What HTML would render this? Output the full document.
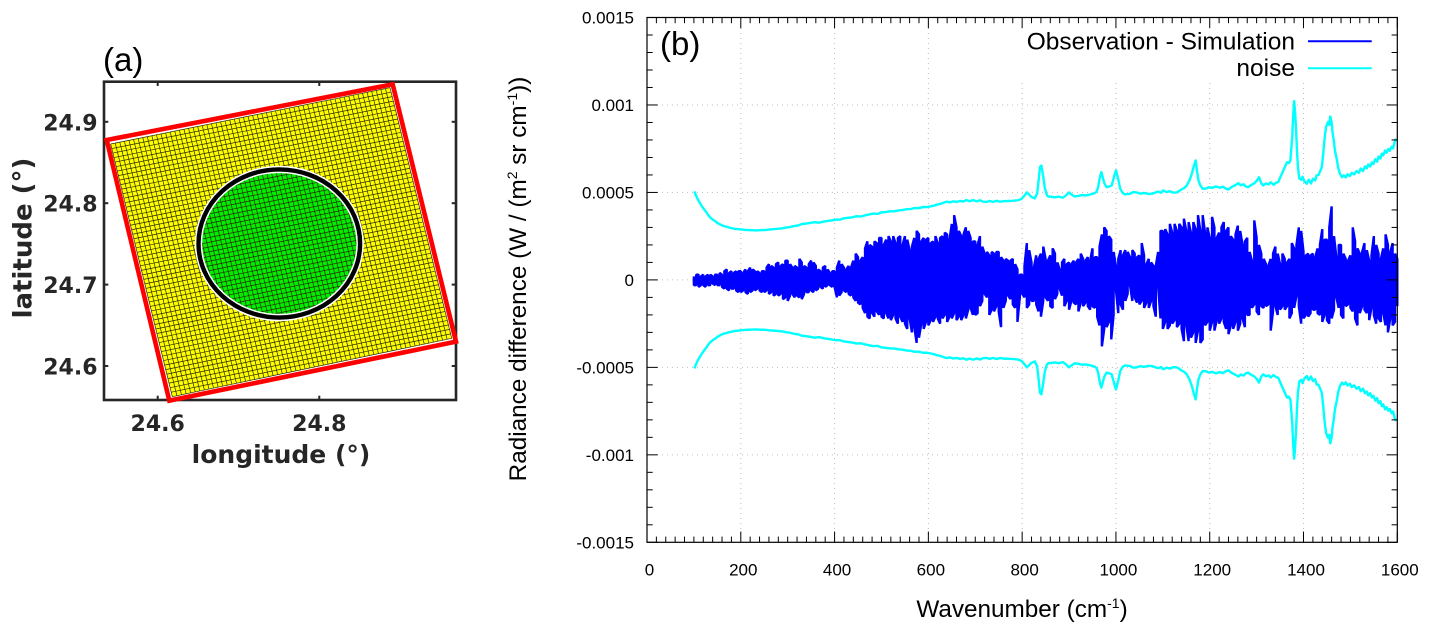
<!DOCTYPE html>
<html lang="en">
<head>
<meta charset="utf-8">
<title>Simulation footprint and radiance difference</title>
<style>
html,body{margin:0;padding:0;background:#fff;}
svg{display:block;}
.dj{font-family:"DejaVu Sans",sans-serif;font-weight:bold;fill:#262626;font-size:22px;}
.lib{font-family:"Liberation Sans",sans-serif;fill:#000;}
</style>
</head>
<body>
<svg id="figure" xmlns="http://www.w3.org/2000/svg" width="1431" height="635" viewBox="0 0 1431 635">
  <rect x="0" y="0" width="1431" height="635" fill="#fff"/>

  <g id="panel-a">
    <text class="lib" x="103" y="71" font-size="33">(a)</text>
    <rect x="104" y="81.7" width="352" height="318.3" fill="none" stroke="#262626" stroke-width="2.6"/>
    <g id="a-ticks"></g>
    <g id="a-cells"></g>
    <g id="a-overlay"></g>
    <text class="dj" x="281" y="463" text-anchor="middle" style="font-size:25px">longitude (°)</text>
    <text class="dj" x="31.5" y="238" text-anchor="middle" transform="rotate(-90 31.5 238)" style="font-size:26px">latitude (°)</text>
  </g>

  <g id="panel-b">
    <g id="b-grid"></g>
    <rect x="1020" y="18.5" width="376" height="64.5" fill="#fff"/>
    <g id="b-series"></g>
    <g id="b-ticks"></g>
    <rect x="647" y="17.5" width="750.3" height="524.8" fill="none" stroke="#000" stroke-width="1.2"/>
    <text class="lib" x="660" y="55" font-size="33">(b)</text>
    <g>
      <g>
        <text class="lib" x="1295" y="49.3" font-size="24.5" text-anchor="end">Observation - Simulation</text>
        <line x1="1308" x2="1371.7" y1="41.3" y2="41.3" stroke="#0000ff" stroke-width="2"/>
      </g>
      <g>
        <text class="lib" x="1295" y="76" font-size="24.5" text-anchor="end">noise</text>
        <line x1="1308" x2="1371.7" y1="68.3" y2="68.3" stroke="#00ffff" stroke-width="2"/>
      </g>
    </g>
    <text class="lib" x="1022" y="617" font-size="24.3" text-anchor="middle">Wavenumber (cm<tspan font-size="14" dy="-9">-1</tspan><tspan dy="9">)</tspan></text>
    <text class="lib" x="526" y="279" font-size="24.3" text-anchor="middle" transform="rotate(-90 526 279)">Radiance difference (W / (m<tspan font-size="14" dy="-9">2</tspan><tspan dy="9"> sr cm</tspan><tspan font-size="14" dy="-9">-1</tspan><tspan dy="9">))</tspan></text>
  </g>
</svg>

<script>
/* ---------- Panel (a) data ---------- */
const lonTicks = [24.6, 24.8];
const latTicks = [24.6, 24.7, 24.8, 24.9];
const footprintLon = [24.5369, 24.8908, 24.9692, 24.6144];
const footprintLat = [24.8776, 24.9461, 24.6299, 24.5574];
const gridLon = [24.5418, 24.8875, 24.9639, 24.6181];
const gridLat = [24.8727, 24.9419, 24.6340, 24.5623];
const gridCellsAlong = 61;
const gridCellsAcross = 56;
const circleCenterLon = 24.7505;
const circleCenterLat = 24.7505;
const circleRadiusLon = 0.1;
const circleRadiusLat = 0.091;

/* ---------- Panel (b) data ---------- */
const xTicks = [0, 200, 400, 600, 800, 1000, 1200, 1400, 1600];
const yTicks = [0.0015, 0.001, 0.0005, 0, -0.0005, -0.001, -0.0015];
const yTickLabels = ['0.0015', '0.001', '0.0005', '0', '-0.0005', '-0.001', '-0.0015'];

/* noise curve: wavenumber (cm-1) and value (1e-3 W/(m2 sr cm-1)); drawn mirrored */
const noiseWavenumber = [
101,104,108,112,116,120,125,130,134,140,145,150,156,162,170,177,185,198,
208,216,225,234,243,252,260,269,278,287,296,305,314,322,331,340,349,358,367,376,385,393,
402,411,420,429,438,447,456,465,474,483,492,500,509,518,527,536,545,554,562,571,580,589,596,
604,611,618,625,632,639,646,653,660,667,674,681,688,696,703,710,717,724,731,738,745,753,760,770,779,788,794,799,805,810,814,820,827,832,835,838,
841,845,848,852,855,862,870,878,887,893,900,906,912,920,928,935,945,955,959,962,966,969,972,975,980,986,991,996,1000,1005,1009,1014,1019,
1030,1037,1044,1052,1060,1070,1079,1090,1096,1101,1108,1115,1122,1130,1136,1140,1146,1151,1157,1162,1166,1170,1173,1176,1180,1185,
1192,1198,1205,1213,1222,1228,1234,1240,1245,1250,1256,1261,1266,1272,1277,1282,1288,1295,1300,1305,1310,1314,1320,1326,1330,1336,1342,1346,1351,1357,1361,1365,1369,1372,1376,1378,1380,1382,1384,1386,1388,1391,
1395,1398,1402,1407,1411,1416,1420,1425,1428,1432,1436,1439,1442,1445,1448,1451,1453,1455,1457,1460,1462,1465,1467,1471,1474,1478,1482,
1486,1490,1494,1499,1503,1508,1513,1518,1522,1527,1531,1535,1538,1542,1546,1549,1553,1557,1560,1564,1567,1570,1574,1577,1581,1584,1588,1591,1594,1597];
const noiseValue = [
0.506,0.486,0.462,0.443,0.426,0.410,0.392,0.373,0.359,0.345,0.336,0.326,0.317,0.309,0.303,0.298,0.293,0.289,
0.286,0.285,0.284,0.283,0.285,0.285,0.288,0.290,0.292,0.294,0.299,0.302,0.308,0.311,0.320,0.322,0.326,0.330,0.327,0.333,0.337,0.340,
0.345,0.344,0.352,0.355,0.358,0.364,0.362,0.369,0.374,0.379,0.377,0.386,0.388,0.392,0.392,0.397,0.399,0.404,0.405,0.411,0.410,0.417,0.416,
0.420,0.424,0.430,0.434,0.441,0.447,0.443,0.449,0.446,0.451,0.448,0.456,0.450,0.456,0.449,0.455,0.447,0.446,0.451,0.446,0.452,0.447,0.450,0.451,0.452,0.454,0.458,0.464,0.482,0.500,0.490,0.474,0.466,0.494,0.565,0.645,
0.654,0.590,0.530,0.490,0.477,0.475,0.472,0.476,0.470,0.482,0.500,0.487,0.477,0.480,0.485,0.483,0.488,0.496,0.505,0.530,0.590,0.616,0.585,0.555,0.530,0.534,0.540,0.590,0.626,0.575,0.522,0.498,0.489,
0.492,0.502,0.500,0.493,0.497,0.491,0.494,0.505,0.498,0.511,0.502,0.507,0.499,0.500,0.510,0.518,0.526,0.540,0.570,0.608,0.650,0.683,0.620,0.569,0.540,0.521,
0.522,0.530,0.526,0.534,0.527,0.533,0.522,0.517,0.528,0.536,0.544,0.553,0.541,0.547,0.534,0.530,0.542,0.552,0.566,0.587,0.552,0.540,0.551,0.546,0.558,0.544,0.556,0.559,0.590,0.626,0.650,0.673,0.668,0.683,0.820,0.940,1.022,0.960,0.870,0.740,0.650,0.580,
0.572,0.590,0.562,0.550,0.572,0.552,0.578,0.569,0.598,0.600,0.625,0.645,0.720,0.810,0.873,0.895,0.905,0.885,0.934,0.900,0.840,0.790,0.740,0.690,0.640,0.605,0.587,
0.598,0.586,0.604,0.594,0.612,0.603,0.622,0.612,0.636,0.622,0.648,0.638,0.660,0.648,0.672,0.662,0.690,0.676,0.705,0.694,0.722,0.712,0.740,0.727,0.748,0.738,0.762,0.752,0.785,0.808];

/* observation minus simulation: per 5 cm-1 bin maxima/minima (1e-5), from 100 to 1600 */
const obsStart = 100;
const obsStep = 5;
const obsHigh = [
2,3,3,2,3,2,3,3,2,3,3,4,3,5,6,4,5,4,5,5,
5,4,6,5,7,6,5,5,4,5,5,7,9,8,7,9,10,8,9,11,
11,9,7,8,7,12,10,8,7,9,11,10,8,6,5,7,8,6,4,5,
5,7,11,9,7,6,8,7,11,15,13,11,13,18,22,20,19,22,21,24,
24,20,23,25,22,25,21,24,25,20,25,23,17,19,24,28,26,22,24,23,
24,21,22,25,21,24,25,27,26,23,32,37,30,28,25,26,30,28,24,22,
22,20,25,19,15,16,14,16,15,16,16,13,11,12,11,11,12,9,6,3,
3,8,21,17,10,7,14,12,15,19,12,11,14,18,15,10,6,10,12,9,
10,9,11,10,12,15,12,11,13,11,18,13,13,19,26,30,28,25,23,16,
8,12,17,14,17,16,13,17,15,13,14,21,14,9,12,10,8,8,16,28,
28,29,26,32,27,32,28,32,30,35,28,33,27,33,29,37,28,37,27,30,
24,36,30,24,27,30,33,28,30,25,23,26,31,28,20,22,24,16,11,34,
24,20,15,12,9,8,12,15,19,15,9,15,12,10,12,21,18,20,30,28,
16,14,15,14,15,13,18,20,29,23,23,30,42,25,13,20,20,15,12,11,
14,30,22,18,15,16,21,17,11,14,25,20,15,12,18,26,20,16,21,15,12];
const obsLow = [
-3,-3,-4,-3,-3,-4,-3,-3,-2,-3,-3,-3,-4,-5,-5,-6,-5,-5,-6,-7,
-7,-6,-7,-8,-7,-6,-6,-5,-6,-7,-7,-6,-8,-7,-9,-8,-9,-8,-11,-10,
-12,-9,-8,-10,-9,-10,-11,-8,-7,-7,-6,-7,-6,-5,-4,-5,-4,-3,-3,-4,
-4,-10,-9,-7,-6,-7,-8,-9,-10,-12,-13,-14,-16,-19,-21,-22,-19,-21,-18,-20,
-21,-22,-19,-22,-23,-20,-22,-25,-21,-24,-25,-28,-22,-30,-27,-36,-33,-25,-28,-24,
-26,-23,-24,-21,-22,-25,-22,-20,-24,-21,-22,-19,-23,-21,-23,-20,-22,-17,-16,-20,
-20,-19,-15,-12,-8,-10,-20,-17,-18,-15,-18,-27,-16,-12,-9,-11,-14,-16,-24,-10,
-8,-10,-16,-14,-12,-12,-14,-18,-21,-12,-10,-12,-15,-16,-11,-8,-5,-9,-15,-12,
-17,-12,-13,-14,-18,-13,-15,-13,-15,-17,-15,-16,-21,-26,-38,-28,-27,-24,-34,-20,
-6,-19,-14,-17,-12,-8,-3,-12,-10,-13,-14,-12,-16,-13,-16,-12,-15,-21,-4,-22,
-28,-24,-28,-26,-25,-23,-27,-25,-28,-35,-26,-35,-33,-30,-36,-29,-36,-34,-26,-24,
-29,-24,-29,-23,-25,-22,-24,-28,-31,-26,-28,-24,-29,-25,-22,-27,-20,-20,-16,-14,
-18,-20,-15,-16,-15,-14,-29,-18,-15,-20,-17,-15,-17,-15,-22,-19,-16,-9,-15,-25,
-22,-20,-21,-19,-17,-17,-19,-20,-24,-20,-23,-25,-22,-17,-10,-16,-20,-22,-15,-14,
-16,-18,-22,-26,-19,-15,-17,-19,-23,-16,-20,-25,-22,-24,-19,-26,-30,-22,-26,-24,-15];

/* ---------- Axis functions ---------- */
const lonToX = lon => 157.7 + (lon - 24.6) * 808;
const latToY = lat => 366 - (lat - 24.6) * 814;
const waveToX = w => 647 + (w / 1600) * 750.3;
const radToY = r => 279.9 - (r / 0.0015) * 262.4;

const NS = 'http://www.w3.org/2000/svg';
function make(tag, parentId, attrs) {
  const node = document.createElementNS(NS, tag);
  for (const key in attrs) node.setAttribute(key, attrs[key]);
  document.getElementById(parentId).appendChild(node);
  return node;
}

/* ---------- Draw panel (a) ---------- */
lonTicks.forEach(function (t) {
  const label = make('text', 'a-ticks', {x: lonToX(t), y: 431, class: 'dj', 'text-anchor': 'middle'});
  
  
  label.textContent = t.toFixed(1);
  [[81.7, 86], [400, 395.7]].forEach(function (pair) {
    const tick = make('line', 'a-ticks', {x1: lonToX(t), x2: lonToX(t), y1: pair[0], y2: pair[1], stroke: '#262626', 'stroke-width': 2});
    
    
  });
});
latTicks.forEach(function (t) {
  const label = make('text', 'a-ticks', {x: 97.5, y: latToY(t) + 8.5, class: 'dj', 'text-anchor': 'end'});
  
  
  label.textContent = t.toFixed(1);
  [[104, 108.3], [456, 451.7]].forEach(function (pair) {
    const tick = make('line', 'a-ticks', {x1: pair[0], x2: pair[1], y1: latToY(t), y2: latToY(t), stroke: '#262626', 'stroke-width': 2});
    
    
  });
});

const gx = gridLon.map(lonToX);
const gy = gridLat.map(latToY);
const gridPoints = gx.map((x, i) => x + ',' + gy[i]).join(' ');
const yellowArea = make('polygon', 'a-cells', {points: gridPoints, fill: '#ffff00'});



const ringCx = lonToX(circleCenterLon);
const ringCy = latToY(circleCenterLat);
const ringRx = circleRadiusLon * 808;
const ringRy = circleRadiusLat * 814;
const greenArea = make('ellipse', 'a-cells', {cx: ringCx, cy: ringCy, rx: ringRx, ry: ringRy, fill: '#00ee00'});



for (let i = 0; i <= gridCellsAlong; i++) {
  const f = i / gridCellsAlong;
  const line = make('line', 'a-cells', {
    x1: gx[0] + (gx[1] - gx[0]) * f, y1: gy[0] + (gy[1] - gy[0]) * f,
    x2: gx[3] + (gx[2] - gx[3]) * f, y2: gy[3] + (gy[2] - gy[3]) * f,
    stroke: '#2a2a00', 'stroke-width': 0.7
  });
  
  
}
for (let j = 0; j <= gridCellsAcross; j++) {
  const f = j / gridCellsAcross;
  const line = make('line', 'a-cells', {
    x1: gx[0] + (gx[3] - gx[0]) * f, y1: gy[0] + (gy[3] - gy[0]) * f,
    x2: gx[1] + (gx[2] - gx[1]) * f, y2: gy[1] + (gy[2] - gy[1]) * f,
    stroke: '#2a2a00', 'stroke-width': 0.7
  });
  
  
}

const ringHalo = make('ellipse', 'a-overlay', {cx: ringCx, cy: ringCy, rx: ringRx, ry: ringRy, fill: 'none', stroke: '#fff', 'stroke-width': 7.4});


const ring = make('ellipse', 'a-overlay', {cx: ringCx, cy: ringCy, rx: ringRx, ry: ringRy, fill: 'none', stroke: '#000', 'stroke-width': 4.4});



const footprintPoints = footprintLon.map((lon, i) => lonToX(lon) + ',' + latToY(footprintLat[i])).join(' ');
const footprint = make('polygon', 'a-overlay', {points: footprintPoints, fill: 'none', stroke: '#ff0000', 'stroke-width': 4.6, 'stroke-linejoin': 'miter'});



/* ---------- Draw panel (b) ---------- */
xTicks.forEach(function (t) {
  const x = waveToX(t);
  if (t > 0 && t < 1600) {
    const grid = make('line', 'b-grid', {x1: x, x2: x, y1: 18, y2: 542, stroke: '#bdbdbd', 'stroke-width': 1, 'stroke-dasharray': '1 4'});
    
    
  }
  const label = make('text', 'b-ticks', {x: x + 2.5, y: 575.3, class: 'lib', 'font-size': 17, 'text-anchor': 'middle'});
  
  
  label.textContent = String(t);
});
for (let w = 0; w <= 1600; w += 20) {
  const size = w % 200 === 0 ? 10.7 : 5.7;
  const x = waveToX(w);
  [[542.3, 542.3 - size], [17.5, 17.5 + size]].forEach(function (pair) {
    const tick = make('line', 'b-ticks', {x1: x, x2: x, y1: pair[0], y2: pair[1], stroke: '#000', 'stroke-width': 1});
    
    
  });
}
yTicks.forEach(function (t, i) {
  const y = radToY(t);
  if (i > 0 && i < yTicks.length - 1) {
    const grid = make('line', 'b-grid', {x1: 647, x2: 1397, y1: y, y2: y, stroke: '#bdbdbd', 'stroke-width': 1, 'stroke-dasharray': '1 4'});
    
    
  }
  const label = make('text', 'b-ticks', {x: 634, y: y + 6, class: 'lib', 'font-size': 17, 'text-anchor': 'end'});
  
  
  label.textContent = yTickLabels[i];
});
for (let k = -15; k <= 15; k++) {
  const size = k % 5 === 0 ? 10.7 : 5.7;
  const y = radToY(k * 0.0001);
  [[647, 647 + size], [1397.3, 1397.3 - size]].forEach(function (pair) {
    const tick = make('line', 'b-ticks', {x1: pair[0], x2: pair[1], y1: y, y2: y, stroke: '#000', 'stroke-width': 1});
    
    
  });
}

let obsPath = '';
obsHigh.forEach(function (hi, i) {
  const x = waveToX(obsStart + i * obsStep).toFixed(2);
  const top = radToY(hi * 1e-5).toFixed(2);
  const bottom = radToY(obsLow[i] * 1e-5).toFixed(2);
  const first = i % 2 === 0 ? top : bottom;
  const second = i % 2 === 0 ? bottom : top;
  obsPath += (i === 0 ? 'M' : 'L') + x + ' ' + first + 'L' + x + ' ' + second;
});
const obsLine = make('path', 'b-series', {d: obsPath, fill: 'none', stroke: '#0000ff', 'stroke-width': 2.4, 'stroke-linejoin': 'bevel'});



const noiseUpperPoints = noiseWavenumber.map((w, i) => waveToX(w).toFixed(2) + ',' + radToY(noiseValue[i] * 1e-3).toFixed(2)).join(' ');
const noiseLowerPoints = noiseWavenumber.map((w, i) => waveToX(w).toFixed(2) + ',' + radToY(-noiseValue[i] * 1e-3).toFixed(2)).join(' ');
const noiseUpper = make('polyline', 'b-series', {points: noiseUpperPoints, fill: 'none', stroke: '#00ffff', 'stroke-width': 2.4, 'stroke-linejoin': 'round'});


const noiseLower = make('polyline', 'b-series', {points: noiseLowerPoints, fill: 'none', stroke: '#00ffff', 'stroke-width': 2.4, 'stroke-linejoin': 'round'});


</script>
</body>
</html>
